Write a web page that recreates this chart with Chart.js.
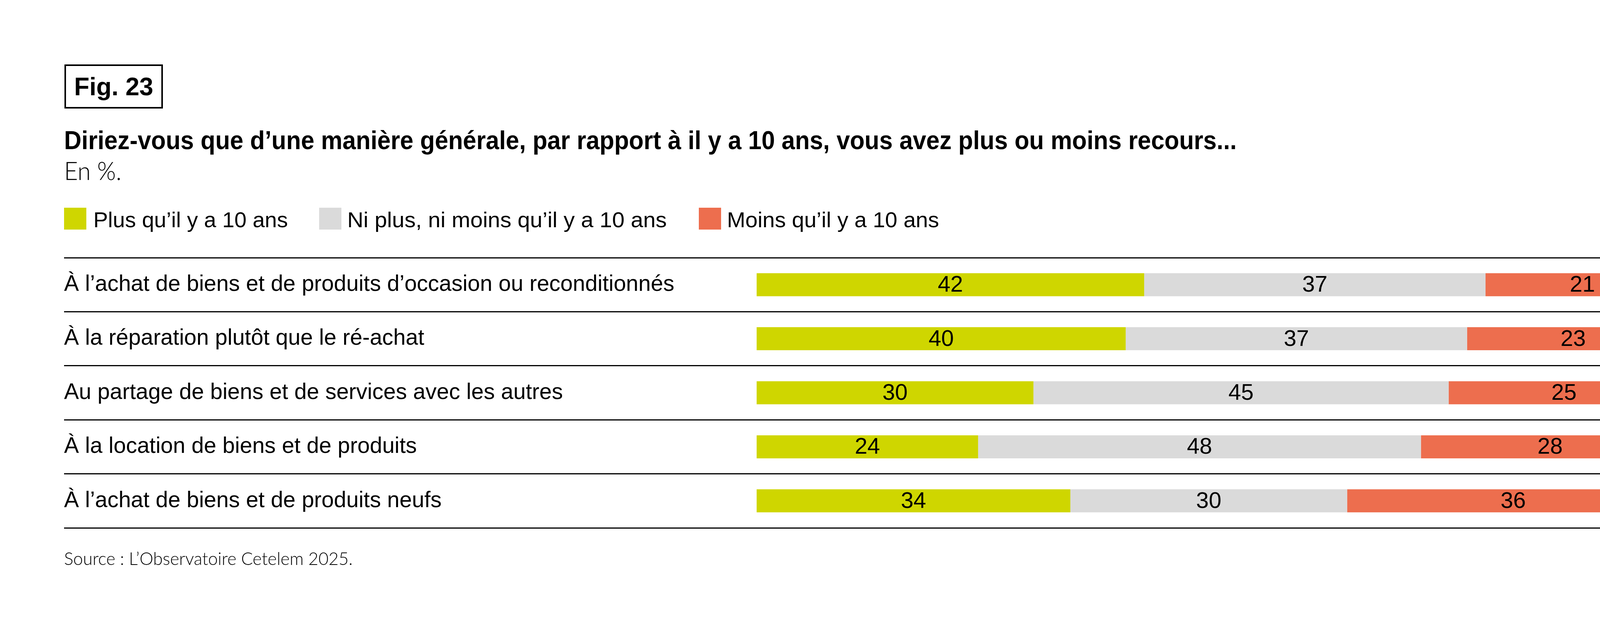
<!DOCTYPE html>
<html lang="fr">
<head>
<meta charset="UTF-8">
<title>Fig. 23 - Recours par rapport à il y a 10 ans</title>
<script src="https://cdn.jsdelivr.net/npm/chart.js"></script>
<style>
  html, body { margin: 0; padding: 0; background: #fff; }
  body { width: 4480px; height: 1588px; position: relative; overflow: hidden;
         font-family: 'Liberation Sans', Arial, sans-serif; color: #000; }
  #chart { position: absolute; left: 0; top: 0; }
  .txt { position: absolute; white-space: nowrap; line-height: 1; transform-origin: 0 0; }
  #figbox { position: absolute; left: 165px; top: 165px; width: 244px; height: 105px;
            border: 4px solid #000; display: flex; align-items: center; justify-content: center; }
  #figtxt { font-weight: bold; font-size: 64px; line-height: 1; white-space: nowrap; }
  #title { left: 164px; top: 326px; font-size: 66px; font-weight: bold; }
  #subtitle { left: 164px; top: 404px; font-size: 65px; font-family: Lato, 'Liberation Sans', sans-serif; font-weight: 300; }
  #source { left: 164px; top: 1407px; font-size: 46px; font-family: Lato, 'Liberation Sans', sans-serif; font-weight: 300; }
  .sw { position: absolute; top: 532px; width: 57px; height: 56px; }
  .lg { top: 535px; font-size: 56px; }
</style>
</head>
<body>
  <canvas id="chart" width="4480" height="1588"></canvas>

  <div id="figbox"><span id="figtxt">Fig. 23</span></div>
  <div class="txt" id="title" data-w="3002">Diriez-vous que d’une manière générale, par rapport à il y a 10 ans, vous avez plus ou moins recours...</div>
  <div class="txt" id="subtitle" data-w="147">En %.</div>
  <div id="legend"></div>
  <div class="txt" id="source" data-w="739">Source : L’Observatoire Cetelem 2025.</div>

<script>
// categories (rows, top to bottom)
const categories = [
  'À l’achat de biens et de produits d’occasion ou reconditionnés',
  'À la réparation plutôt que le ré-achat',
  'Au partage de biens et de services avec les autres',
  'À la location de biens et de produits',
  'À l’achat de biens et de produits neufs'
];

// series names
const seriesNames = [
  'Plus qu’il y a 10 ans',
  'Ni plus, ni moins qu’il y a 10 ans',
  'Moins qu’il y a 10 ans'
];

// values in %
const plusValues  = [42, 40, 30, 24, 34];
const neutreValues = [37, 37, 45, 48, 30];
const moinsValues = [21, 23, 25, 28, 36];

const colors = ['#CFD600', '#DADADA', '#ED6E4E'];
const seriesValues = [plusValues, neutreValues, moinsValues];

// legend (html), positions tuned to the original figure
const legendSwatchX = [164, 817, 1789];
const legendTextX = [239, 889, 1861];
const legendTextW = [498, 818, 543];
const legend = document.getElementById('legend');
seriesNames.forEach(function(name, i) {
  const sw = document.createElement('div');
  sw.className = 'sw';
  sw.style.left = legendSwatchX[i] + 'px';
  sw.style.background = colors[i];
  legend.appendChild(sw);
  const t = document.createElement('div');
  t.className = 'txt lg';
  t.style.left = legendTextX[i] + 'px';
  t.dataset.w = legendTextW[i];
  t.textContent = name;
  legend.appendChild(t);
});

// value labels inside the bars
const valueLabels = {
  id: 'valueLabels',
  afterDatasetsDraw(chart) {
    const ctx = chart.ctx;
    ctx.save();
    ctx.font = '58px "Liberation Sans", Arial, sans-serif';
    ctx.fillStyle = '#000';
    ctx.textAlign = 'center';
    ctx.textBaseline = 'middle';
    chart.data.datasets.forEach(function(ds, i) {
      chart.getDatasetMeta(i).data.forEach(function(bar, j) {
        const cx = (bar.x + bar.base) / 2;
        ctx.fillText(ds.data[j], cx, bar.y + 2);
      });
    });
    ctx.restore();
  }
};

const ctx = document.getElementById('chart').getContext('2d');
new Chart(ctx, {
  type: 'bar',
  data: {
    labels: categories,
    datasets: seriesNames.map(function(name, i) {
      return {
        label: name,
        data: seriesValues[i],
        backgroundColor: colors[i],
        borderWidth: 0,
        categoryPercentage: 1,
        barPercentage: 0.426
      };
    })
  },
  options: {
    indexAxis: 'y',
    responsive: false,
    devicePixelRatio: 1,
    animation: false,
    layout: { padding: { left: 164, right: 181, top: 660, bottom: 236 } },
    plugins: {
      legend: { display: false },
      title: { display: false },
      tooltip: { enabled: false }
    },
    scales: {
      x: { display: false, stacked: true, min: 0, max: 100 },
      y: {
        stacked: true,
        border: { display: false },
        grid: {
          offset: true,
          color: '#000',
          lineWidth: 3,
          drawTicks: true,
          tickLength: 1773
        },
        ticks: {
          autoSkip: false,
          crossAlign: 'far',
          padding: 0,
          color: '#000',
          font: { family: '"Liberation Sans", Arial, sans-serif', size: 57 }
        },
        afterFit: function(scale) { scale.width = 1773; }
      }
    }
  },
  plugins: [valueLabels]
});

// stretch/squeeze html texts to the widths of the original
function fitTexts() {
  document.querySelectorAll('[data-w]').forEach(function(el) {
    el.style.transform = 'none';
    const w = el.getBoundingClientRect().width;
    el.style.transform = 'scaleX(' + (Number(el.dataset.w) / w) + ')';
  });
  const f = document.getElementById('figtxt');
  f.style.transform = 'scaleX(' + (177 / f.getBoundingClientRect().width) + ')';
}
fitTexts();
if (document.fonts && document.fonts.ready) document.fonts.ready.then(fitTexts);
</script>
</body>
</html>
